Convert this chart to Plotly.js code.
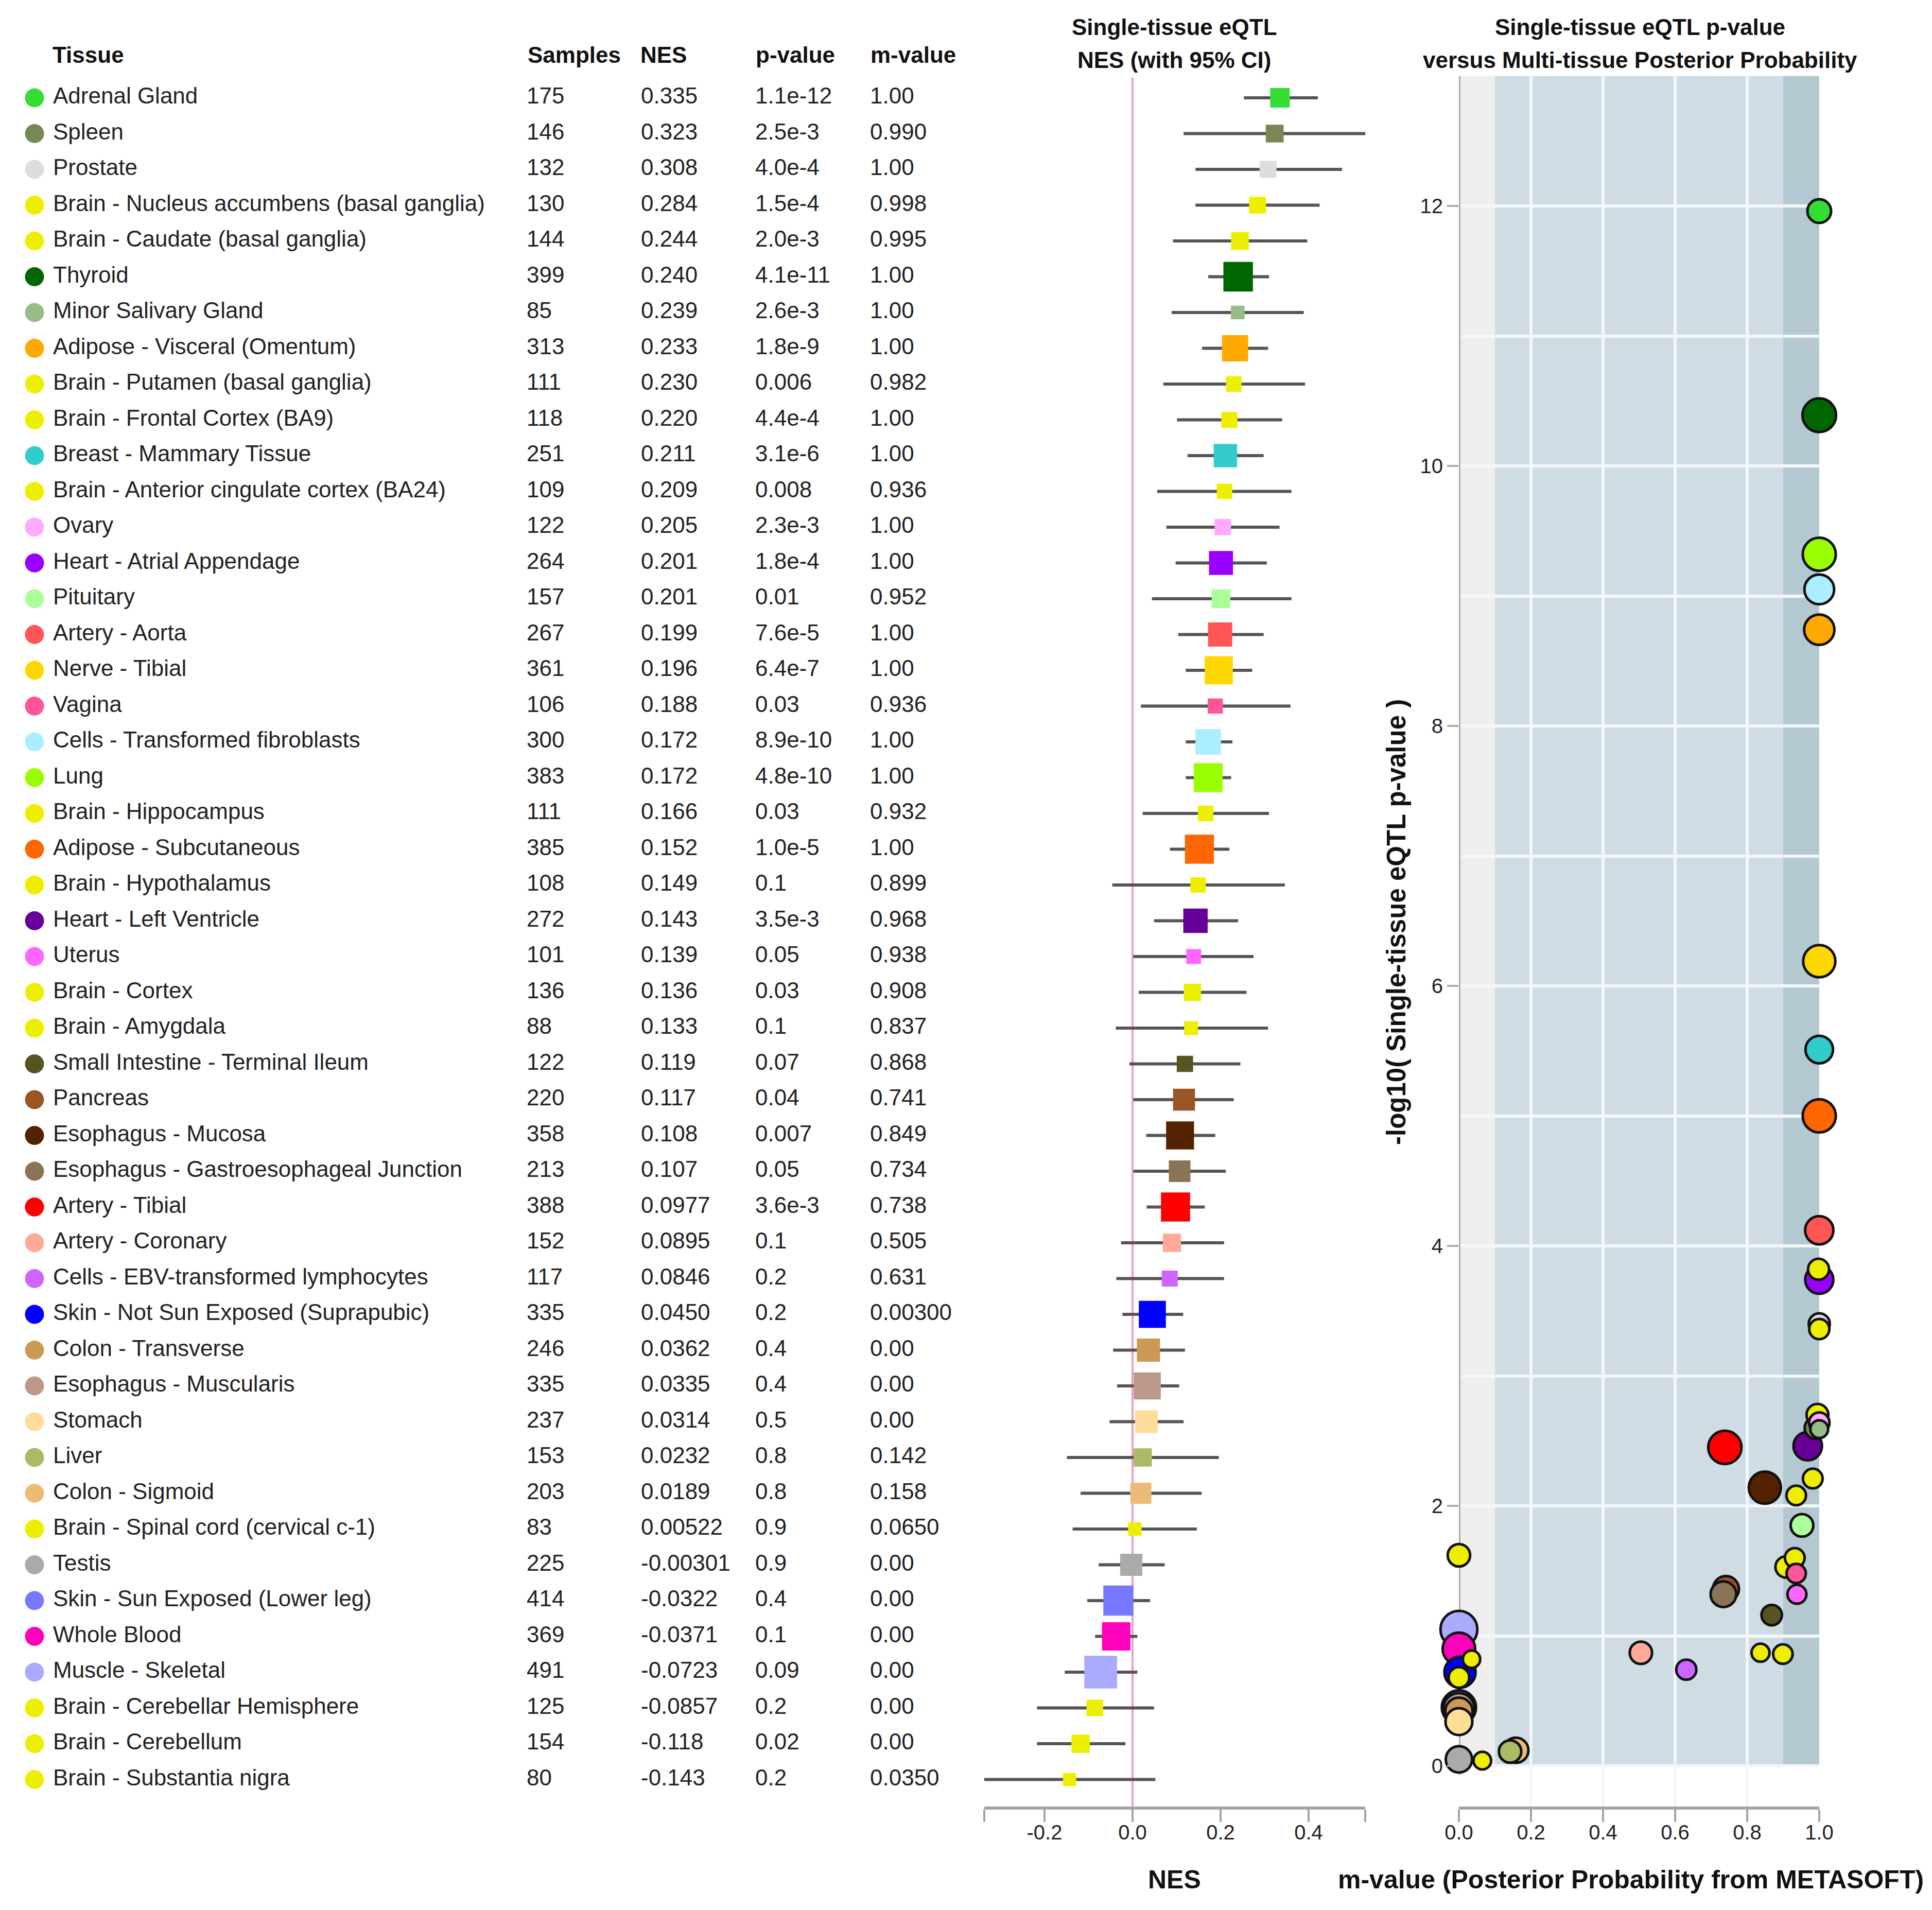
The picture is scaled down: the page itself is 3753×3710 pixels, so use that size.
<!DOCTYPE html>
<html>
<head>
<meta charset="utf-8">
<script src="https://cdn.plot.ly/plotly-3.0.1.min.js"></script>
<style>html,body{margin:0;padding:0;background:#fff}#chart{width:3753px;height:3710px}</style>
</head>
<body>
<div id="chart"></div>
<script>
// ---------------- DATA ----------------
const tissues = ["Adrenal Gland","Spleen","Prostate","Brain - Nucleus accumbens (basal ganglia)","Brain - Caudate (basal ganglia)","Thyroid","Minor Salivary Gland","Adipose - Visceral (Omentum)","Brain - Putamen (basal ganglia)","Brain - Frontal Cortex (BA9)","Breast - Mammary Tissue","Brain - Anterior cingulate cortex (BA24)","Ovary","Heart - Atrial Appendage","Pituitary","Artery - Aorta","Nerve - Tibial","Vagina","Cells - Transformed fibroblasts","Lung","Brain - Hippocampus","Adipose - Subcutaneous","Brain - Hypothalamus","Heart - Left Ventricle","Uterus","Brain - Cortex","Brain - Amygdala","Small Intestine - Terminal Ileum","Pancreas","Esophagus - Mucosa","Esophagus - Gastroesophageal Junction","Artery - Tibial","Artery - Coronary","Cells - EBV-transformed lymphocytes","Skin - Not Sun Exposed (Suprapubic)","Colon - Transverse","Esophagus - Muscularis","Stomach","Liver","Colon - Sigmoid","Brain - Spinal cord (cervical c-1)","Testis","Skin - Sun Exposed (Lower leg)","Whole Blood","Muscle - Skeletal","Brain - Cerebellar Hemisphere","Brain - Cerebellum","Brain - Substantia nigra"];
const colors = ["#33DD33","#778855","#DDDDDD","#EEEE00","#EEEE00","#006600","#99BB88","#FFAA00","#EEEE00","#EEEE00","#33CCCC","#EEEE00","#FFAAFF","#9900FF","#AAFF99","#FF5555","#FFD700","#FF5599","#AAEEFF","#99FF00","#EEEE00","#FF6600","#EEEE00","#660099","#FF66FF","#EEEE00","#EEEE00","#555522","#995522","#552200","#8B7355","#FF0000","#FFAA99","#CC66FF","#0000FF","#CC9955","#BB9988","#FFDD99","#AABB66","#EEBB77","#EEEE00","#AAAAAA","#7777FF","#FF00BB","#AAAAFF","#EEEE00","#EEEE00","#EEEE00"];
const samples = [175,146,132,130,144,399,85,313,111,118,251,109,122,264,157,267,361,106,300,383,111,385,108,272,101,136,88,122,220,358,213,388,152,117,335,246,335,237,153,203,83,225,414,369,491,125,154,80];
const nesText = ["0.335","0.323","0.308","0.284","0.244","0.240","0.239","0.233","0.230","0.220","0.211","0.209","0.205","0.201","0.201","0.199","0.196","0.188","0.172","0.172","0.166","0.152","0.149","0.143","0.139","0.136","0.133","0.119","0.117","0.108","0.107","0.0977","0.0895","0.0846","0.0450","0.0362","0.0335","0.0314","0.0232","0.0189","0.00522","-0.00301","-0.0322","-0.0371","-0.0723","-0.0857","-0.118","-0.143"];
const pText = ["1.1e-12","2.5e-3","4.0e-4","1.5e-4","2.0e-3","4.1e-11","2.6e-3","1.8e-9","0.006","4.4e-4","3.1e-6","0.008","2.3e-3","1.8e-4","0.01","7.6e-5","6.4e-7","0.03","8.9e-10","4.8e-10","0.03","1.0e-5","0.1","3.5e-3","0.05","0.03","0.1","0.07","0.04","0.007","0.05","3.6e-3","0.1","0.2","0.2","0.4","0.4","0.5","0.8","0.8","0.9","0.9","0.4","0.1","0.09","0.2","0.02","0.2"];
const mText = ["1.00","0.990","1.00","0.998","0.995","1.00","1.00","1.00","0.982","1.00","1.00","0.936","1.00","1.00","0.952","1.00","1.00","0.936","1.00","1.00","0.932","1.00","0.899","0.968","0.938","0.908","0.837","0.868","0.741","0.849","0.734","0.738","0.505","0.631","0.00300","0.00","0.00","0.00","0.142","0.158","0.0650","0.00","0.00","0.00","0.00","0.00","0.00","0.0350"];
const ciLow = [0.253,0.116,0.143,0.143,0.092,0.172,0.089,0.158,0.070,0.101,0.125,0.056,0.077,0.098,0.044,0.104,0.121,0.019,0.121,0.121,0.023,0.085,-0.046,0.049,0.002,0.014,-0.038,-0.007,0.002,0.031,0.002,0.032,-0.026,-0.037,-0.023,-0.044,-0.035,-0.052,-0.149,-0.118,-0.136,-0.077,-0.103,-0.085,-0.154,-0.217,-0.217,-0.337];
const ciHigh = [0.421,0.529,0.476,0.425,0.397,0.310,0.389,0.308,0.392,0.340,0.298,0.361,0.334,0.305,0.361,0.298,0.272,0.359,0.227,0.224,0.310,0.220,0.346,0.240,0.275,0.259,0.308,0.245,0.230,0.188,0.212,0.164,0.208,0.208,0.115,0.119,0.106,0.116,0.196,0.157,0.146,0.073,0.040,0.011,0.011,0.049,-0.016,0.052];
// -log10(p)
const negLog10P = [11.96,2.60,3.40,3.82,2.70,10.39,2.59,8.74,2.21,3.36,5.51,2.08,2.64,3.74,1.85,4.12,6.19,1.48,9.05,9.32,1.60,5.00,0.86,2.46,1.32,1.53,0.87,1.16,1.36,2.14,1.32,2.45,0.87,0.74,0.72,0.42,0.44,0.34,0.11,0.12,0.04,0.05,0.45,0.90,1.05,0.68,1.62,0.82];
const headers = ["Tissue","Samples","NES","p-value","m-value"];
const nesTickVals = [-0.2,0,0.2,0.4];
const nesTickText = ["-0.2","0.0","0.2","0.4"];
const mTickVals = [0,0.2,0.4,0.6,0.8,1.0];
const mTickText = ["0.0","0.2","0.4","0.6","0.8","1.0"];
const pTickVals = [0,2,4,6,8,10,12];
const pTickText = ["0","2","4","6","8","10","12"];
const mBands = [0.1,0.9];   // m-value thresholds for background shading
const pMax = 13;

// ---------------- LAYOUT GEOMETRY (pixels) ----------------
const W = 3753, H = 3710;
const FONT = "Liberation Sans, Arial, Helvetica, sans-serif";
const rowTop = 190, rowStep = 69.5, plotTop = 151, plotBottom = 3509;
const rowRange = [(plotBottom-rowTop)/rowStep, (plotTop-rowTop)/rowStep];
const yDom = [1-plotBottom/H, 1-plotTop/H];
const zeroPx = 2200, pxPerNES = 855;
const lo = Math.min(...ciLow), hi = Math.max(...ciHigh);
const xDom = [(zeroPx+lo*pxPerNES)/W, (zeroPx+hi*pxPerNES)/W];
const m0Px = 2834, m1Px = 3534;
const y0Px = 3430, pxPerP = 252.5;
const y2Range = [(y0Px-plotBottom)/pxPerP, pMax];
const y2Dom = [1-plotBottom/H, 1-(y0Px-pMax*pxPerP)/H];
const colX = {dot:67, name:103, samples:1023, nes:1245, p:1467, m:1690};
const hdrX = [100, 1023, 1242, 1466, 1689];
const px = v => v/W, py = v => 1-v/H;

const idx = tissues.map((_,i)=>i);
const nes = nesText.map(Number);
const mval = mText.map(Number);

const traces = [];
// table: coloured dots
traces.push({type:'scatter',mode:'markers',xaxis:'x3',yaxis:'y3',x:idx.map(()=>colX.dot),y:idx,
  marker:{size:37,color:colors,opacity:1,line:{width:0}},cliponaxis:false,hoverinfo:'skip'});
function textCol(xp, arr){
  return {type:'scatter',mode:'text',xaxis:'x3',yaxis:'y3',x:idx.map(()=>xp),y:idx,text:arr,
    textposition:'middle right',textfont:{family:FONT,size:44,color:'#222'},cliponaxis:false,hoverinfo:'skip'};
}
traces.push(textCol(colX.name,tissues));
traces.push(textCol(colX.samples,samples.map(String)));
traces.push(textCol(colX.nes,nesText));
traces.push(textCol(colX.p,pText));
traces.push(textCol(colX.m,mText));
// forest: whiskers (CI)
traces.push({type:'scatter',mode:'markers',xaxis:'x',yaxis:'y',x:nes,y:idx,
  marker:{size:1,opacity:0},
  error_x:{type:'data',symmetric:false,array:nes.map((v,i)=>ciHigh[i]-v),arrayminus:nes.map((v,i)=>v-ciLow[i]),
    width:0,thickness:6,color:'#555555'},cliponaxis:false,hoverinfo:'skip'});
// forest: squares
traces.push({type:'scatter',mode:'markers',xaxis:'x',yaxis:'y',x:nes,y:idx,
  marker:{symbol:'square',size:samples.map(n=>2.87*Math.sqrt(n)),color:colors,opacity:1,line:{width:0}},
  cliponaxis:false,text:tissues,hoverinfo:'text+x'});
// scatter: larger circles drawn first
const order = idx.slice().sort((a,b)=>samples[b]-samples[a]);
traces.push({type:'scatter',mode:'markers',xaxis:'x2',yaxis:'y2',
  x:order.map(i=>mval[i]),y:order.map(i=>negLog10P[i]),text:order.map(i=>tissues[i]),
  marker:{size:order.map(i=>2.87*Math.sqrt(samples[i])+8),color:order.map(i=>colors[i]),opacity:1,line:{color:'#111',width:5}},
  cliponaxis:false,hoverinfo:'text+x+y'});

const gridC = '#f3f7fa';
const axFont = {family:FONT,size:40,color:'#222'};
const minorVals = []; for(let k=1;k<=pMax;k+=2) minorVals.push(k);

const shapes = [
  {type:'line',xref:'x',yref:'y domain',x0:0,x1:0,y0:0,y1:1,line:{color:'#ee9fc2',width:4},layer:'below'},
  {type:'rect',xref:'x2',yref:'y2',x0:0,x1:mBands[0],y0:0,y1:pMax,fillcolor:'#eeeeee',line:{width:0},layer:'below'},
  {type:'rect',xref:'x2',yref:'y2',x0:mBands[0],x1:mBands[1],y0:0,y1:pMax,fillcolor:'#cfdce3',line:{width:0},layer:'below'},
  {type:'rect',xref:'x2',yref:'y2',x0:mBands[1],x1:1,y0:0,y1:pMax,fillcolor:'#b4c8d1',line:{width:0},layer:'below'},
  {type:'line',xref:'x2',yref:'y2',x0:0,x1:0,y0:-0.07,y1:pMax,line:{color:'#adadad',width:6},layer:'between'}
];

const bold = (t,x,y,size,extra) => Object.assign({text:t,x:px(x),y:py(y),xref:'paper',yref:'paper',showarrow:false,
  xanchor:'center',yanchor:'middle',font:{family:FONT,size:size,color:'#111',weight:'bold'}},extra||{});
const annotations = headers.map((h,i)=>bold(h,hdrX[i],106,44,{xanchor:'left'}));
annotations.push(bold('Single-tissue eQTL',2281,53,44));
annotations.push(bold('NES (with 95% CI)',2281,116,44));
annotations.push(bold('Single-tissue eQTL p-value',3186,53,44));
annotations.push(bold('versus Multi-tissue Posterior Probability',3186,116,44));
annotations.push(bold('NES',2281,3651,50));
annotations.push(bold('m-value (Posterior Probability from METASOFT)',3168,3651,50));
annotations.push(bold('-log10( Single-tissue eQTL p-value )',2712,1791,51,{textangle:-90}));

const tickCommon = {ticks:'outside',tickwidth:4,tickcolor:'#a3a3a3',tickfont:axFont,ticklabelstandoff:-14,fixedrange:true,zeroline:false};
const layout = {
  width:W,height:H,margin:{l:0,r:0,t:0,b:0},paper_bgcolor:'#fff',plot_bgcolor:'rgba(0,0,0,0)',
  showlegend:false,font:{family:FONT,color:'#222'},
  xaxis:Object.assign({domain:xDom,range:[lo,hi],anchor:'y',tickmode:'array',
    tickvals:[lo].concat(nesTickVals,[hi]),ticktext:[''].concat(nesTickText,['']),
    ticklen:24,showline:true,linecolor:'#a3a3a3',linewidth:6,showgrid:false},tickCommon),
  yaxis:{domain:yDom,range:rowRange,anchor:'x',visible:false,fixedrange:true},
  xaxis3:{domain:[0,0.5],range:[0,W*0.5],anchor:'y3',visible:false,fixedrange:true},
  yaxis3:{domain:yDom,range:rowRange,anchor:'x3',visible:false,fixedrange:true},
  xaxis2:Object.assign({domain:[px(m0Px),px(m1Px)],range:[0,1],anchor:'y2',tickmode:'array',tickvals:mTickVals,ticktext:mTickText,
    ticklen:24,showline:true,linecolor:'#a3a3a3',linewidth:6,
    showgrid:true,gridcolor:gridC,gridwidth:6},tickCommon),
  yaxis2:{domain:y2Dom,range:y2Range,anchor:'x2',tickmode:'array',tickvals:pTickVals,ticktext:pTickText,
    ticks:'outside',ticklen:22,tickwidth:4,tickcolor:'#adadad',showline:false,tickfont:axFont,
    showgrid:true,gridcolor:gridC,gridwidth:6,zeroline:false,fixedrange:true,
    minor:{tickmode:'array',tickvals:minorVals,showgrid:true,gridcolor:gridC,gridwidth:6,ticks:''}},
  shapes:shapes,annotations:annotations
};
Plotly.newPlot('chart',traces,layout,{staticPlot:true,displayModeBar:false});
</script>
</body>
</html>
